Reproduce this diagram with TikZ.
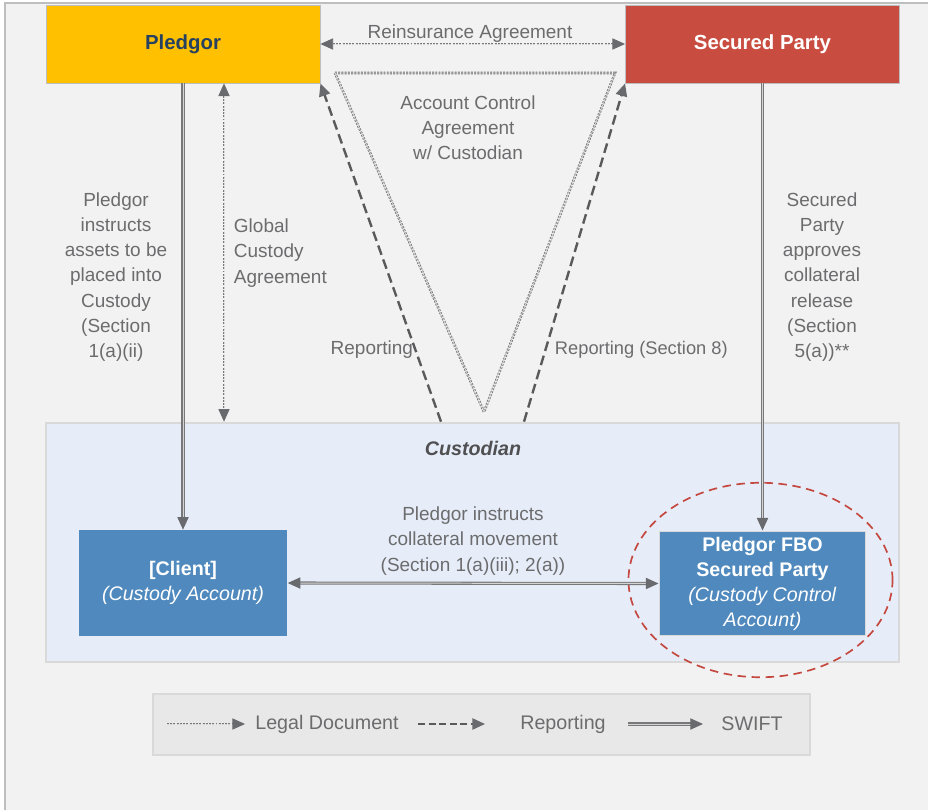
\documentclass[tikz,border=0pt]{standalone}
\usepackage{fontspec}
\setmainfont{Liberation Sans}
\usetikzlibrary{arrows.meta}

\definecolor{bggray}{RGB}{242,242,242}
\definecolor{framegray}{RGB}{190,190,190}
\definecolor{boxgray}{RGB}{217,217,217}
\definecolor{pledgoryellow}{RGB}{255,192,0}
\definecolor{securedred}{RGB}{200,76,64}
\definecolor{titleblue}{RGB}{38,66,96}
\definecolor{custblue}{RGB}{230,237,248}
\definecolor{custtext}{RGB}{80,80,82}
\definecolor{acctblue}{RGB}{79,137,189}
\definecolor{legendgray}{RGB}{232,232,232}
\definecolor{txtgray}{RGB}{108,108,110}
\definecolor{linegray}{RGB}{120,120,122}
\definecolor{railgray}{RGB}{212,212,212}
\definecolor{repgray}{RGB}{90,90,92}
\definecolor{tipgray}{RGB}{105,106,110}
\definecolor{ellred}{RGB}{196,72,64}

\begin{document}
\begin{tikzpicture}[x=0.025cm, y=-0.025cm,
    >={Triangle[length=9pt,width=8pt,color=tipgray]},
    party/.style={draw=framegray, line width=0.6pt, minimum width=6.85cm, minimum height=1.95cm,
      font=\bfseries\fontsize{14.5}{18}\selectfont},
    acct/.style={fill=acctblue, text=white, align=center, minimum width=5.22cm, minimum height=2.65cm,
      font=\fontsize{14}{17.8}\selectfont},
    lbl/.style={text=txtgray, align=center, font=\fontsize{13.5}{17.9}\selectfont},
    swift/.style={draw=linegray, line width=0.75pt, double=railgray, double distance=0.7pt},
    legal/.style={draw=linegray, line width=0.6pt, double=railgray, double distance=0.6pt,
      dash pattern=on 1.4pt off 0.9pt},
    report/.style={draw=repgray, line width=1.7pt, dash pattern=on 7pt off 3.5pt}]

    % canvas
    \useasboundingbox (0,0) rectangle (928,810);
    \fill[bggray] (5,3) rectangle (928,810);
    \draw[framegray, line width=1.4pt] (5,810) -- (5,3) -- (928,3);

    % parties
    \node[party, fill=pledgoryellow, text=titleblue] (pledgor) at (183,44) {Pledgor};
    \node[party, fill=securedred, text=white] (secured) at (762.5,44) {Secured Party};

    % custodian and accounts
    \node[draw=boxgray, line width=2pt, fill=custblue, minimum width=21.32cm, minimum height=5.97cm] (custodian) at (472.5,542.5) {};
    \node[text=custtext, font=\bfseries\itshape\fontsize{14}{17}\selectfont] (custTitle) at (473,448) {Custodian};
    \node[acct] (client) at (183,583) {\textbf{[Client]}\\\textit{(Custody Account)}};
    \node[acct, draw=boxgray, line width=0.8pt, minimum width=5.17cm, minimum height=2.62cm] (fbo) at (762.5,583.5)
      {\textbf{Pledgor FBO}\\\textbf{Secured Party}\\\textit{(Custody Control}\\\textit{Account)}};
    \draw[ellred, line width=1.2pt, dash pattern=on 6pt off 4pt] (760.5,580) ellipse [x radius=3.3cm, y radius=2.43cm];

    % legal documents
    \draw[legal] (335,73) -- (615,73) -- (484,412) -- cycle;
    \draw[legal,<->] (pledgor.east) -- (secured.west);
    \coordinate (gca) at (224,0);
    \draw[legal,<->] (pledgor.south -| gca) -- (custodian.north -| gca);

    % reporting
    \coordinate (repL) at (441,0);
    \coordinate (repR) at (524,0);
    \draw[report,->] (custodian.north -| repL) -- (pledgor.south east);
    \draw[report,->] (custodian.north -| repR) -- (secured.south west);

    % swift
    \draw[swift,->] (pledgor.south) -- (client.north);
    \draw[swift,->] (secured.south) -- (fbo.north);
    \draw[swift,<->] (client.east) -- (fbo.west);

    % labels
    \node[lbl] (reinsLbl) at (470,34) {Reinsurance Agreement};
    \node[lbl] (acaLbl) at (468,128) {Account Control\\Agreement\\w/ Custodian};
    \node[lbl] (instrLbl) at (116,277) {Pledgor\\instructs\\assets to be\\placed into\\Custody\\(Section\\1(a)(ii)};
    \node[lbl, align=left, anchor=west] (gcaLbl) at (229,253) {Global\\Custody\\Agreement};
    \node[lbl] (approveLbl) at (822,277) {Secured\\Party\\approves\\collateral\\release\\(Section\\5(a))**};
    \node[lbl, anchor=east] (repLLbl) at (418,350) {Reporting};
    \node[lbl, anchor=west, font=\fontsize{13}{17}\selectfont] (repRLbl) at (550,350) {Reporting (Section 8)};
    \node[lbl] (moveLbl) at (473,541) {Pledgor instructs\\collateral movement\\(Section 1(a)(iii); 2(a))};

    % legend
    \node[fill=legendgray, draw=boxgray, line width=1.5pt, minimum width=16.42cm, minimum height=1.52cm] (legend) at (481.5,724.5) {};
    \node[lbl, font=\fontsize{14}{17}\selectfont] (lgLegal) at (327,724) {Legal Document};
    \node[lbl, font=\fontsize{14}{17}\selectfont] (lgReport) at (563,724) {Reporting};
    \node[lbl, font=\fontsize{14}{17}\selectfont] (lgSwift) at (752,724) {SWIFT};
    \coordinate (lgLegalA) at (167,724);
    \coordinate (lgLegalB) at (245,724);
    \coordinate (lgRepA) at (418,724);
    \coordinate (lgRepB) at (485,724);
    \coordinate (lgSwiftA) at (628,724);
    \coordinate (lgSwiftB) at (703,724);
    \draw[legal,->] (lgLegalA) -- (lgLegalB);
    \draw[report, line width=1.3pt, dash pattern=on 5pt off 2.5pt, ->] (lgRepA) -- (lgRepB);
    \draw[swift,->] (lgSwiftA) -- (lgSwiftB);
  \end{tikzpicture}
\end{document}
